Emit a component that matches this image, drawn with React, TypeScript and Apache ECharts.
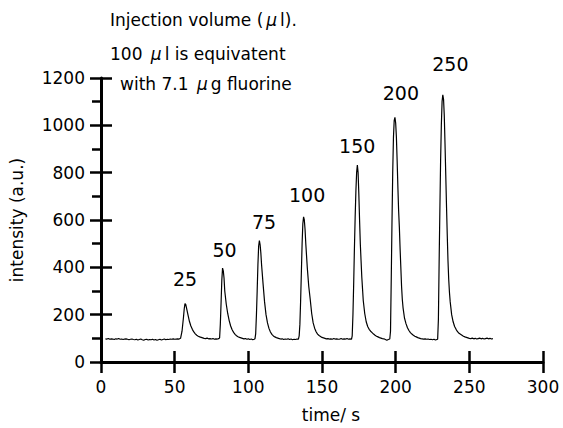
import React, { useEffect, useRef } from "react";
import * as echarts from "echarts";

// [time (s), intensity (a.u.)]
const signal: [number, number][] = [
  [3, 98], [4, 97], [5, 99], [6, 96], [7, 98], [8, 97], [9, 95], [10, 98], [11, 97], [12, 99],
  [13, 96], [14, 97], [15, 95], [16, 97], [17, 98], [18, 96], [19, 94], [20, 96], [21, 97], [22, 95],
  [23, 94], [24, 96], [25, 93], [26, 95], [27, 97], [28, 94], [29, 92], [30, 95], [31, 96], [32, 93],
  [33, 95], [34, 94], [35, 96], [36, 93], [37, 95], [38, 92], [39, 94], [40, 96], [41, 93], [42, 95],
  [43, 97], [44, 94], [45, 96], [46, 95], [47, 97], [48, 96], [49, 98], [50, 96], [51, 97], [52, 98],
  [53, 97],
  // peak 25
  [54, 100], [55, 130], [56, 190], [56.5, 225], [57, 247], [57.5, 243], [58, 230], [59, 200], [60, 172],
  [61, 152], [62, 138], [63, 127], [64, 119], [65, 113], [66, 109], [67, 106], [68, 104], [69, 102],
  [70, 100], [71, 99], [72, 101], [73, 98], [74, 99], [75, 97], [76, 99], [77, 96], [78, 98], [79, 97], [80, 99],
  // peak 50
  [80.5, 102], [81, 160], [81.5, 250], [82, 345], [82.5, 397], [83, 385], [83.5, 355], [84, 300],
  [85, 245], [86, 205], [87, 175], [88, 152], [89, 136], [90, 125], [91, 117], [92, 111], [93, 107],
  [94, 104], [95, 102], [96, 100], [97, 98], [98, 99], [99, 96], [100, 98], [101, 95], [102, 97],
  [103, 94], [104, 96],
  // peak 75
  [104.5, 98], [105, 120], [105.5, 200], [106, 300], [106.5, 410], [107, 490], [107.5, 513], [108, 495],
  [108.5, 460], [109, 410], [110, 330], [111, 255], [112, 200], [113, 165], [114, 142], [115, 127],
  [116, 117], [117, 110], [118, 106], [119, 103], [120, 101], [121, 99], [122, 97], [123, 98], [124, 95],
  [125, 97], [126, 96], [127, 98], [128, 95], [129, 97], [130, 94], [131, 96], [132, 95], [133, 97],
  // peak 100
  [134, 97], [134.5, 110], [135, 160], [135.5, 260], [136, 380], [136.5, 500], [137, 585], [137.5, 613],
  [138, 600], [138.5, 560], [139, 500], [140, 400], [141, 320], [142, 265], [143, 205], [144, 165],
  [145, 143], [146, 128], [147, 118], [148, 112], [149, 108], [150, 104], [151, 102], [152, 100],
  [153, 98], [154, 99], [155, 97], [156, 98], [157, 96], [158, 99], [159, 97], [160, 98], [161, 96],
  [162, 97], [163, 99], [164, 96], [165, 98], [166, 97], [167, 99], [168, 96], [169, 98],
  // peak 150
  [170, 96], [170.5, 110], [171, 200], [171.5, 330], [172, 480], [172.5, 610], [173, 720], [173.5, 800],
  [174, 832], [174.5, 800], [175, 710], [175.5, 600], [176, 500], [176.5, 430], [177, 360], [178, 260],
  [179, 205], [180, 170], [181, 150], [182, 138], [183, 130], [184, 124], [185, 118], [186, 113],
  [187, 109], [188, 106], [189, 103], [190, 101], [191, 99], [192, 98], [193, 95], [194, 92], [195, 95],
  // peak 200
  [196, 97], [196.5, 130], [197, 350], [197.5, 590], [198, 800], [198.5, 950], [199, 1020], [199.5, 1034],
  [200, 1010], [200.5, 950], [201, 850], [201.5, 740], [202, 640], [202.5, 570], [203, 480], [203.5, 400],
  [204, 320], [204.5, 265], [205, 230], [206, 185], [207, 162], [208, 145], [209, 133], [210, 124],
  [211, 118], [212, 113], [213, 109], [214, 106], [215, 103], [216, 101], [217, 99], [218, 98], [219, 97],
  [220, 98], [221, 96], [222, 97], [223, 95], [224, 96], [225, 94], [226, 96], [227, 93], [228, 95],
  // peak 250
  [228.5, 96], [229, 180], [229.5, 420], [230, 640], [230.5, 850], [231, 1000], [231.5, 1100], [232, 1129],
  [232.5, 1110], [233, 1040], [233.5, 920], [234, 790], [234.5, 660], [235, 540], [235.5, 430], [236, 350],
  [236.5, 295], [237, 255], [238, 200], [239, 170], [240, 150], [241, 138], [242, 128], [243, 121],
  [244, 117], [245, 113], [246, 109], [247, 106], [248, 104], [249, 102], [250, 100], [251, 99], [252, 101],
  [253, 98], [254, 100], [255, 97], [256, 99], [257, 101], [258, 98], [259, 100], [260, 97], [261, 99],
  [262, 101], [263, 98], [264, 100], [265, 97], [266, 99],
];

// injection volume labels, anchored in data space (time, intensity)
const peakNames = ["25", "50", "75", "100", "150", "200", "250"];
const peakLabelTimes = [57.1, 83.9, 110.7, 139.9, 173.9, 203.5, 237.1];
const peakLabelIntensities = [349, 474, 590, 705, 911, 1137, 1258];

const xTicks = { min: 0, max: 300, interval: 50 };
const yTicks = { min: 0, max: 1200, interval: 200 };

const titleLines = ["Injection volume (", "μ", "l)."];
const FONT = "DejaVu Sans";

export default function App() {
  const ref = useRef<HTMLDivElement>(null);
  useEffect(() => {
    if (!ref.current) return;
    const chart = echarts.init(ref.current, null, { renderer: "svg" });
    const axisLine = { show: true, lineStyle: { color: "#000", width: 3 } };
    const tickStyle = { color: "#000", width: 2.5 };
    const labelStyle = { color: "#000", fontSize: 17, fontFamily: FONT };
    const rich = {
      a: { fontSize: 17, fontFamily: FONT, fill: "#000" },
      m: { fontSize: 17, fontFamily: FONT, fill: "#000", fontStyle: "italic", padding: [0, 3] },
    };
    chart.setOption({
      animation: false,
      backgroundColor: "#fff",
      grid: { left: 101, right: 20, top: 78, bottom: 63, containLabel: false },
      xAxis: [
        {
          type: "value", ...xTicks, position: "bottom",
          axisLine, axisTick: { show: true, inside: false, length: 11, lineStyle: tickStyle },
          axisLabel: { ...labelStyle, margin: 16, formatter: (v: number) => String(v) },
          splitLine: { show: false },
          name: "time/ s", nameLocation: "middle", nameGap: 44,
          nameTextStyle: { color: "#000", fontSize: 17, fontFamily: FONT, padding: [0, 0, 0, 18] },
        },
        {
          type: "value", ...xTicks, position: "bottom",
          axisLine: { show: false }, axisTick: { show: true, inside: true, length: 11, lineStyle: tickStyle },
          axisLabel: { show: false }, splitLine: { show: false },
        },
      ],
      yAxis: [
        {
          type: "value", ...yTicks, position: "left",
          axisLine, axisTick: { show: true, inside: false, length: 11, lineStyle: tickStyle },
          minorTick: { show: true, splitNumber: 2, length: 9, lineStyle: tickStyle },
          minorSplitLine: { show: false },
          axisLabel: { ...labelStyle, margin: 16, formatter: (v: number) => String(v) },
          splitLine: { show: false },
          name: "intensity (a.u.)", nameLocation: "middle", nameGap: 76, nameRotate: 90,
          nameTextStyle: { color: "#000", fontSize: 17, fontFamily: FONT },
        },
        {
          type: "value", ...yTicks, position: "left",
          axisLine: { show: false }, axisTick: { show: true, inside: true, length: 11, lineStyle: tickStyle },
          axisLabel: { show: false }, splitLine: { show: false },
        },
      ],
      series: [
        {
          type: "line", data: signal, showSymbol: false, symbol: "none",
          lineStyle: { color: "#000", width: 1.2 }, xAxisIndex: 0, yAxisIndex: 0,
        },
        {
          type: "scatter", clip: false, symbolSize: 0, xAxisIndex: 0, yAxisIndex: 0,
          itemStyle: { color: "#000", opacity: 1 },
          data: peakNames.map((n, i) => ({ name: n, value: [peakLabelTimes[i], peakLabelIntensities[i]] })),
          label: {
            show: true, position: "inside", formatter: "{b}",
            color: "#000", opacity: 1, fontSize: 19, fontFamily: FONT, textBorderWidth: 0,
          },
          emphasis: { disabled: true },
        },
      ],
      graphic: [
        {
          type: "text", left: 110, top: 11,
          style: { text: `{a|${titleLines[0]}}{m|${titleLines[1]}}{a|${titleLines[2]}}`, rich },
        },
        {
          type: "text", left: 110, top: 45,
          style: { text: "{a|100 }{m|μ}{a|l is equivatent}", rich },
        },
        {
          type: "text", left: 120, top: 75,
          style: { text: "{a|with 7.1 }{m|μ}{a|g fluorine}", rich },
        },
      ],
    });
    return () => chart.dispose();
  }, []);
  return <div ref={ref} style={{ position: "absolute", left: 0, top: 0, width: 563, height: 428 }} />;
}
